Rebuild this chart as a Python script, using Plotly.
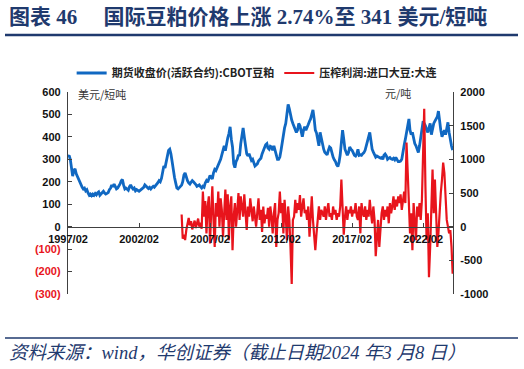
import pandas as pd
import plotly.graph_objects as go

# ---- data (monthly) ----
cbot_start = "1997-02-01"
cbot_meal = [
    310, 318, 300, 262, 225, 250, 258, 235, 222, 210, 200,            # 1997 Feb-Dec
    190, 175, 168, 172, 160, 165, 150, 140, 145, 138, 145, 140,       # 1998
    148, 142, 150, 155, 140, 148, 152, 158, 150, 145, 148, 152,       # 1999
    165, 172, 186, 178, 190, 175, 168, 172, 180, 190, 205, 210,       # 2000
    185, 168, 172, 165, 162, 178, 186, 175, 168, 172, 160, 165,       # 2001
    160, 158, 162, 168, 172, 175, 186, 180, 176, 170, 175, 168,       # 2002
    175, 180, 176, 182, 190, 196, 205, 200, 215, 240, 270, 262,       # 2003
    290, 320, 340, 345, 325, 290, 250, 220, 195, 172, 168, 175,       # 2004
    178, 185, 200, 230, 240, 220, 205, 195, 190, 198, 205, 200,       # 2005
    195, 188, 180, 182, 186, 178, 172, 180, 176, 195, 205, 198,       # 2006
    215, 228, 220, 212, 240, 255, 250, 262, 275, 290, 300, 320,       # 2007
    345, 360, 338, 375, 395, 415, 445, 390, 355, 280, 263, 290,       # 2008
    300, 320, 315, 370, 415, 440, 400, 360, 325, 315, 325, 310,       # 2009
    295, 300, 280, 270, 275, 280, 293, 300, 305, 324, 340, 350,       # 2010
    365, 370, 350, 345, 358, 355, 340, 360, 335, 310, 300, 300,       # 2011
    310, 340, 380, 420, 440, 460, 515, 545, 525, 495, 475, 460,       # 2012
    445, 432, 420, 430, 460, 450, 420, 401, 430, 445, 430, 440,       # 2013
    455, 470, 480, 500, 520, 480, 430, 417, 378, 360, 420, 390,       # 2014
    360, 345, 332, 325, 320, 340, 355, 350, 320, 310, 298, 290,       # 2015
    275, 268, 286, 320, 375, 430, 390, 345, 332, 318, 330, 355,       # 2016
    345, 340, 330, 318, 315, 324, 345, 318, 320, 318, 325, 330,       # 2017
    340, 365, 375, 400, 420, 380, 345, 332, 320, 310, 315, 312,       # 2018
    310, 305, 308, 300, 318, 324, 316, 300, 305, 308, 302, 300,       # 2019
    305, 298, 309, 295, 290, 290, 292, 300, 340, 363, 390, 420,       # 2020
    465, 480, 430, 410, 420, 386, 370, 360, 340, 330, 360, 401,       # 2021
    420, 470, 460, 450, 432, 420, 440, 460, 410, 440, 460, 470,       # 2022
    480, 490, 515, 460, 430, 401, 420, 430, 410, 440, 465, 420,       # 2023
    380, 360, 341,                                                    # 2024 Jan-Mar
]

crush_start = "2005-02-01"
crush_margin = [
    180, -180, -120, -200, -50, 60, 130, 20, 80, -40, 30,             # 2005 Feb-Dec
    90, -20, 50, 120, 0, 60, -30, 520, 150, 380, -100, 300,           # 2006
    450, -250, 200, 600, 100, -300, 350, 150, 520, 0, 420, 250,       # 2007
    -150, 330, 550, 100, 480, -200, 300, 450, -350, 150, 350, 0,      # 2008
    200, 500, 100, 450, 300, 150, 480, 250, -50, 300, 150, 420,       # 2009
    200, 80, 300, 150, 0, 220, 420, 100, 250, -80, 300, 50,           # 2010
    180, 120, 280, 0, 300, 150, -100, 200, 350, -300, 100, 200,       # 2011
    520, 200, 350, -100, 400, 150, -200, 300, 100, -300, -850, 100,   # 2012
    150, 400, 200, 350, 250, 470, 150, 300, 420, 200, 250, 100,       # 2013
    300, -150, 200, 450, 100, -200, -350, -100, 150, 300, 100, 250,   # 2014
    200, 150, 300, 100, 250, 350, 150, 200, 100, 300, 180, 250,       # 2015
    100, 200, 150, 300, 700, 200, -120, 150, 300, 100, 250, 200,      # 2016
    300, 150, 250, 200, 350, 150, 100, 300, -100, 350, 200, 150,      # 2017
    300, 100, 250, 150, 400, 200, 50, 300, 100, -440, -100, 100,      # 2018
    -300, 50, 200, 300, 100, 250, 150, 300, 50, 350, 200, 300,        # 2019
    450, 250, 400, 300, 450, 350, 480, 250, 400, 520, 350, 1250,      # 2020
    800, 300, -100, 200, -350, 350, 100, -200, 300, 150, 350, 100,    # 2021
    400, 1000, 1750, 600, -200, 200, -750, -300, 400, 850, 200, 700,  # 2022
    200, -300, -100, 300, 500, 700, 950, 800, 300, 100, 0, -100,      # 2023
    -50, -300, -700,                                                  # 2024 Jan-Mar
]

x_tick_dates = ["1997-02-01", "2002-02-01", "2007-02-01", "2012-02-01", "2017-02-01", "2022-02-01"]
x_tick_text = ["1997/02", "2002/02", "2007/02", "2012/02", "2017/02", "2022/02"]
left_tick_vals = [600, 500, 400, 300, 200, 100, 0, -100, -200, -300]
left_tick_text = ["600", "500", "400", "300", "200", "100", "0",
                  "<span style='color:#e8141c'>(100)</span>",
                  "<span style='color:#e8141c'>(200)</span>",
                  "<span style='color:#e8141c'>(300)</span>"]
right_tick_vals = [2000, 1500, 1000, 500, 0, -500, -1000]
right_tick_text = ["2000", "1500", "1000", "500", "0", "-500", "-1000"]

name_blue = "期货收盘价(活跃合约):CBOT豆粕"
name_red = "压榨利润:进口大豆:大连"
title_text = "图表 46　 国际豆粕价格上涨 2.74%至 341 美元/短吨"
source_text = "资料来源：wind，华创证券（截止日期2024 年3 月8 日）"

# ---- build ----
dates_blue = pd.date_range(cbot_start, periods=len(cbot_meal), freq="MS")
dates_red = pd.date_range(crush_start, periods=len(crush_margin), freq="MS")

BLUE = "#1068c2"
RED = "#e8141c"
NAVY = "#1f3a6e"
AXIS = "#404040"
CJK = "Noto Sans CJK SC, Liberation Sans, sans-serif"
NUM = "Liberation Sans, Arial, sans-serif"

fig = go.Figure()
fig.add_trace(go.Scatter(x=dates_blue, y=cbot_meal, mode="lines", name="<b>" + name_blue + "</b>",
                         line=dict(color=BLUE, width=2.8), yaxis="y"))
fig.add_trace(go.Scatter(x=dates_red, y=crush_margin, mode="lines", name="<b>" + name_red + "</b>",
                         line=dict(color=RED, width=2.2), yaxis="y2"))

fig.update_layout(
    width=524, height=369,
    margin=dict(l=68, r=71, t=92, b=75),
    paper_bgcolor="white", plot_bgcolor="white",
    showlegend=True,
    legend=dict(orientation="h", x=0.49, xanchor="center", y=1.094, yanchor="middle",
                font=dict(family=CJK, size=11, color="#222"), bgcolor="rgba(0,0,0,0)",
                itemwidth=30, tracegroupgap=0),
    xaxis=dict(type="date", range=["1997-02-01", "2024-03-10"],
               tickvals=x_tick_dates, ticktext=x_tick_text,
               anchor="free", position=1/3, showline=True, linecolor=AXIS, linewidth=1.3,
               ticks="inside", ticklen=4, tickcolor=AXIS, showgrid=False, zeroline=False,
               tickfont=dict(family=NUM, size=11, color="#111", weight="bold"),
               ticklabelstandoff=2),
    yaxis=dict(range=[-300, 600], tickvals=left_tick_vals, ticktext=left_tick_text,
               showline=True, linecolor=AXIS, linewidth=1.3, ticks="inside", ticklen=4,
               tickcolor=AXIS, showgrid=False, zeroline=False,
               tickfont=dict(family=NUM, size=11, color="#111", weight="bold"),
               ticklabelstandoff=4),
    yaxis2=dict(range=[-1000, 2000], tickvals=right_tick_vals, ticktext=right_tick_text,
                overlaying="y", side="right", anchor="x",
                showline=True, linecolor=AXIS, linewidth=1.3, ticks="inside", ticklen=4,
                tickcolor=AXIS, showgrid=False, zeroline=False,
                tickfont=dict(family=NUM, size=11, color="#111", weight="bold"),
                ticklabelstandoff=4),
)

# title, rules, unit labels, source
fig.add_annotation(text="<b>" + title_text + "</b>", xref="paper", yref="paper",
                   x=(7 - 68) / 385, y=(294 - 17) / 202, xanchor="left", yanchor="middle",
                   showarrow=False, font=dict(family="Liberation Serif, " + CJK, size=21, color=NAVY))
fig.add_shape(type="line", xref="paper", yref="paper",
              x0=(5 - 68) / 385, x1=(518 - 68) / 385, y0=(294 - 35) / 202, y1=(294 - 35) / 202,
              line=dict(color=NAVY, width=2.5))
fig.add_shape(type="line", xref="paper", yref="paper",
              x0=(5 - 68) / 385, x1=(518 - 68) / 385, y0=(294 - 338) / 202, y1=(294 - 338) / 202,
              line=dict(color=NAVY, width=1.5))
fig.add_annotation(text="<i>" + source_text + "</i>", xref="paper", yref="paper",
                   x=(7 - 68) / 385, y=(294 - 353) / 202, xanchor="left", yanchor="middle",
                   showarrow=False, font=dict(family="Liberation Serif, " + CJK, size=18.5, color=NAVY))
fig.add_annotation(text="美元/短吨", xref="paper", yref="paper",
                   x=(76 - 68) / 385, y=(294 - 94) / 202, xanchor="left", yanchor="middle",
                   showarrow=False, font=dict(family=CJK, size=11, color="#333"))
fig.add_annotation(text="元/吨", xref="paper", yref="paper",
                   x=(383 - 68) / 385, y=(294 - 93) / 202, xanchor="left", yanchor="middle",
                   showarrow=False, font=dict(family=CJK, size=11, color="#333"))

fig.write_html("out.html")
